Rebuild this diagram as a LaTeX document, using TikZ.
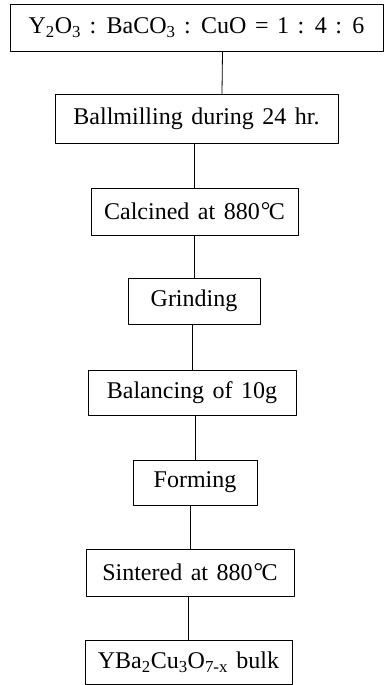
\documentclass[tikz,border=0pt]{standalone}
\usepackage{fontspec}
\setmainfont{Liberation Serif}
\newcommand{\degC}{\kern1pt\raisebox{1pt}{\textdegree}\kern-1.5pt C}
\begin{document}
\begin{tikzpicture}[x=1pt, y=-1pt, font={\fontsize{24}{27}\selectfont\spaceskip=8.5pt}, line join=round, line cap=round, line width=0.8pt, stage/.style={draw, inner sep=0pt}]
			\useasboundingbox (0,0) rectangle (384,685);
			\node[stage, minimum width=373, minimum height=47] (mix) at (196.5,27.5) {Y\textsubscript{2}O\textsubscript{3} : BaCO\textsubscript{3} : CuO = 1 : 4 : 6};
			\node[stage, minimum width=283, minimum height=49] (mill) at (196.5,118.5) {Ballmilling during 24 hr.};
			\node[stage, minimum width=207, minimum height=47] (calc) at (194.5,211.5) {Calcined at 880\degC};
			\node[stage, minimum width=132, minimum height=46] (grind) at (194,301) {Grinding};
			\node[stage, minimum width=208, minimum height=45] (bal) at (192,392.5) {Balancing of 10g};
			\node[stage, minimum width=124, minimum height=45] (form) at (195,482.5) {Forming};
			\node[stage, minimum width=208, minimum height=47] (sinter) at (190,572.5) {Sintered at 880\degC};
			\node[stage, minimum width=207, minimum height=44] (bulk) at (188.5,662) {YBa\textsubscript{2}Cu\textsubscript{3}O\textsubscript{7-x} bulk};
			\draw ([xshift=26]mix.south) -- ([xshift=25.5]mill.north);
			\draw (mill.south -| calc.north) -- (calc.north);
			\draw (calc.south -| grind.north) -- (grind.north);
			\draw (grind.south -| bal.north) -- (bal.north);
			\draw (bal.south -| form.north) -- (form.north);
			\draw (form.south -| sinter.north) -- (sinter.north);
			\draw (sinter.south -| bulk.north) -- (bulk.north);
\end{tikzpicture}
\end{document}
